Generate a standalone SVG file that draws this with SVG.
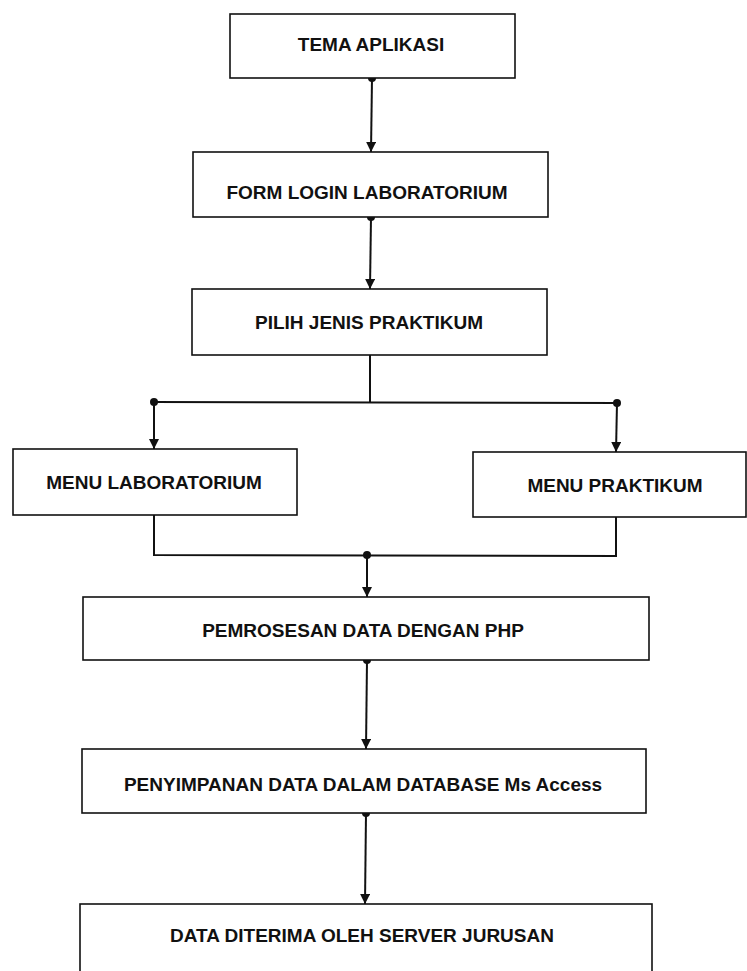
<svg xmlns="http://www.w3.org/2000/svg" width="747" height="971" viewBox="0 0 747 971">
<style>
.box{fill:#fff;stroke:#111;stroke-width:1.6}
.lbl{font-family:"Liberation Sans",Arial,sans-serif;font-weight:bold;font-size:19px;fill:#111;text-anchor:middle}
.con{fill:none;stroke:#111;stroke-width:2}
.dot{fill:#111}
</style>
<defs>
<marker id="arr" viewBox="0 0 10 10" refX="10" refY="5" markerWidth="5" markerHeight="5" orient="auto" markerUnits="strokeWidth">
<path d="M0,0 L10,5 L0,10 z" fill="#111"/>
</marker>
</defs>
<rect width="747" height="971" fill="#fff"/>
<g id="connectors">
<line class="con" x1="372" y1="78" x2="371" y2="152" marker-end="url(#arr)"/>
<circle class="dot" cx="372" cy="78" r="4"/>
<line class="con" x1="371" y1="217" x2="370" y2="289" marker-end="url(#arr)"/>
<circle class="dot" cx="371" cy="217" r="4"/>
<polyline class="con" points="370,355 370,402"/>
<line class="con" x1="153" y1="402" x2="617" y2="403"/>
<circle class="dot" cx="154" cy="402" r="4"/>
<circle class="dot" cx="617" cy="403" r="4"/>
<line class="con" x1="154" y1="402" x2="154" y2="449" marker-end="url(#arr)"/>
<line class="con" x1="617" y1="403" x2="616" y2="452" marker-end="url(#arr)"/>
<polyline class="con" points="154,515 154,555 616,556 616,517"/>
<circle class="dot" cx="367" cy="555" r="4"/>
<line class="con" x1="367" y1="555" x2="367" y2="597" marker-end="url(#arr)"/>
<circle class="dot" cx="367" cy="660" r="4"/>
<line class="con" x1="367" y1="660" x2="366" y2="749" marker-end="url(#arr)"/>
<circle class="dot" cx="366" cy="813" r="4"/>
<line class="con" x1="366" y1="813" x2="365" y2="904" marker-end="url(#arr)"/>
</g>
<g id="n1"><rect class="box" x="230" y="14" width="285" height="64"/><text class="lbl" x="371" y="51">TEMA APLIKASI</text></g>
<g id="n2"><rect class="box" x="193" y="152" width="355" height="65"/><text class="lbl" x="367" y="199">FORM LOGIN LABORATORIUM</text></g>
<g id="n3"><rect class="box" x="192" y="289" width="355" height="66"/><text class="lbl" x="369" y="329">PILIH JENIS PRAKTIKUM</text></g>
<g id="n4"><rect class="box" x="13" y="449" width="284" height="66"/><text class="lbl" x="154" y="489">MENU LABORATORIUM</text></g>
<g id="n5"><rect class="box" x="473" y="452" width="273" height="65"/><text class="lbl" x="615" y="492">MENU PRAKTIKUM</text></g>
<g id="n6"><rect class="box" x="83" y="597" width="566" height="63"/><text class="lbl" x="363" y="637">PEMROSESAN DATA DENGAN PHP</text></g>
<g id="n7"><rect class="box" x="82" y="749" width="564" height="64"/><text class="lbl" x="363" y="791">PENYIMPANAN DATA DALAM DATABASE Ms Access</text></g>
<g id="n8"><rect class="box" x="80" y="904" width="572" height="80"/><text class="lbl" x="362" y="942">DATA DITERIMA OLEH SERVER JURUSAN</text></g>
</svg>
